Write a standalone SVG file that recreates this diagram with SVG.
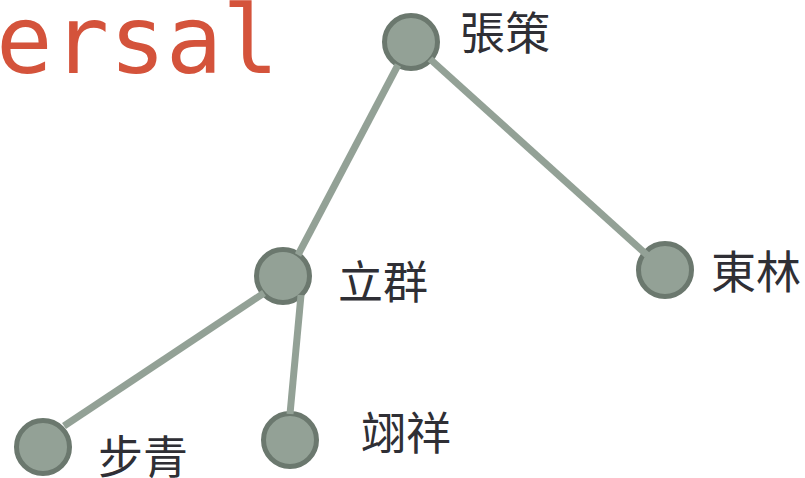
<svg xmlns="http://www.w3.org/2000/svg" width="805" height="478" viewBox="0 0 805 478">
<style>
.node circle{fill:#93a196;stroke:#6b786e;stroke-width:5}
.node text{font-family:"Noto Sans CJK TC","Noto Sans CJK SC",sans-serif;font-size:45px;fill:#2f2f35}
.links line{stroke:#93a196;stroke-width:7;stroke-linecap:butt}
.title{font-family:"DejaVu Sans Mono","Liberation Mono",monospace;font-size:94px;fill:#d4533b}
</style>
<rect width="805" height="478" fill="#ffffff"/>
<text class="title" x="-4" y="73">ersal</text>
<g id="n-zhangce" class="node"><circle cx="411" cy="42" r="26.5"/><text x="460" y="50">張策</text></g>
<g id="n-liqun" class="node"><circle cx="283" cy="276" r="26.5"/><text x="338" y="299">立群</text></g>
<g id="n-donglin" class="node"><circle cx="665" cy="270" r="26.5"/><text x="711" y="289">東林</text></g>
<g id="n-buqing" class="node"><circle cx="43" cy="447" r="26.5"/><text x="98" y="474">步青</text></g>
<g id="n-yixiang" class="node"><circle cx="290" cy="440" r="26.5"/><text x="361" y="450">翊祥</text></g>
<g id="links" class="links">
<line x1="398" y1="65" x2="298" y2="255"/>
<line x1="430" y1="59" x2="647" y2="255"/>
<line x1="264" y1="293" x2="64" y2="426"/>
<line x1="301" y1="295" x2="290" y2="414"/>
</g>
</svg>
